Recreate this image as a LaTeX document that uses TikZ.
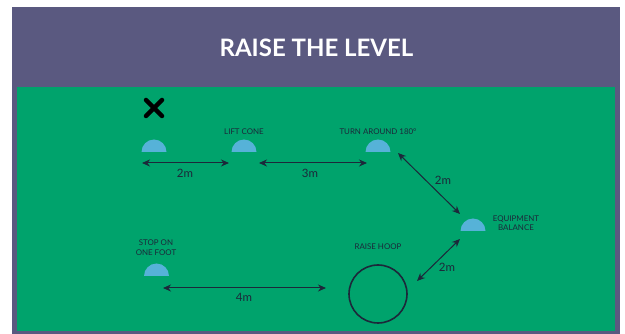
\documentclass[tikz,border=0pt]{standalone}
\usepackage{fontspec}
\setmainfont{Lato}
\usetikzlibrary{arrows.meta}
\definecolor{panelpurple}{RGB}{90,89,128}
\definecolor{fieldgreen}{RGB}{0,163,108}
\definecolor{coneblue}{RGB}{86,178,216}
\definecolor{navy}{RGB}{28,40,58}
\tikzset{
  dim/.style={navy, line width=1pt, {Stealth[length=8pt,width=7pt]}-{Stealth[length=8pt,width=7pt]}},
  lbl/.style={text=navy, font=\fontsize{7.9}{9.6}\selectfont, align=center, inner sep=0pt},
  dist/.style={text=navy, font=\fontsize{11.5}{12}\selectfont, inner sep=0pt},
  conefill/.style={fill=coneblue},
}
\newcommand{\conedraw}[1]{\fill[conefill] (#1) ++(-12.5,0) arc[start angle=180, end angle=360, radius=12.5] -- cycle;}
\begin{document}
\begin{tikzpicture}[x=1pt,y=-1pt]
\useasboundingbox (0,0) rectangle (625,334);
% panels
\fill[panelpurple] (12,7) rectangle (620,334);
\fill[fieldgreen] (17,87) rectangle (615,331);
\node[text=white, font=\fontsize{24}{28}\selectfont\bfseries, inner sep=0pt] (title) at (316.5,48) {RAISE THE LEVEL};
% X mark
\coordinate (xm) at (154,108);
\draw[black, line width=4.5pt, line cap=round] (xm) ++(-8,-8) -- ++(16,16) (xm) ++(8,-8) -- ++(-16,16);
% cones
\coordinate (c1) at (154,152);
\coordinate (c2) at (244,152);
\coordinate (c3) at (378,152);
\coordinate (c4) at (473,231);
\coordinate (c5) at (156.5,276);
\conedraw{c1}
\conedraw{c2}
\conedraw{c3}
\conedraw{c4}
\conedraw{c5}
% hoop
\node[draw=navy, line width=1.6pt, circle, minimum size=58pt, inner sep=0pt] (hoop) at (378,294) {};
% labels
\node[lbl] (lift) at (244,131.5) {LIFT CONE};
\node[lbl] (turn) at (378,131.5) {TURN AROUND 180°};
\node[lbl] (equip) at (516,223) {EQUIPMENT\\BALANCE};
\node[lbl] (stop) at (156,247.5) {STOP ON\\ONE FOOT};
\node[lbl] (raise) at (378,247) {RAISE HOOP};
% dimension arrows
\coordinate (a1s) at (142,163);
\coordinate (a1e) at (229,163);
\coordinate (a2s) at (259,163);
\coordinate (a2e) at (367,163);
\coordinate (a3s) at (398,153);
\coordinate (a3e) at (460,214);
\coordinate (a4s) at (460,239);
\coordinate (a4e) at (417,281);
\coordinate (a5s) at (163,288);
\coordinate (a5e) at (326,288);
\draw[dim] (a1s) -- (a1e);
\draw[dim] (a2s) -- (a2e);
\draw[dim] (a3s) -- (a3e);
\draw[dim] (a4s) -- (a4e);
\draw[dim] (a5s) -- (a5e);
\node[dist] (d1) at (185,173) {2m};
\node[dist] (d2) at (310,173) {3m};
\node[dist] (d3) at (443,180) {2m};
\node[dist] (d4) at (447,267) {2m};
\node[dist] (d5) at (244,297) {4m};
\end{tikzpicture}
\end{document}
